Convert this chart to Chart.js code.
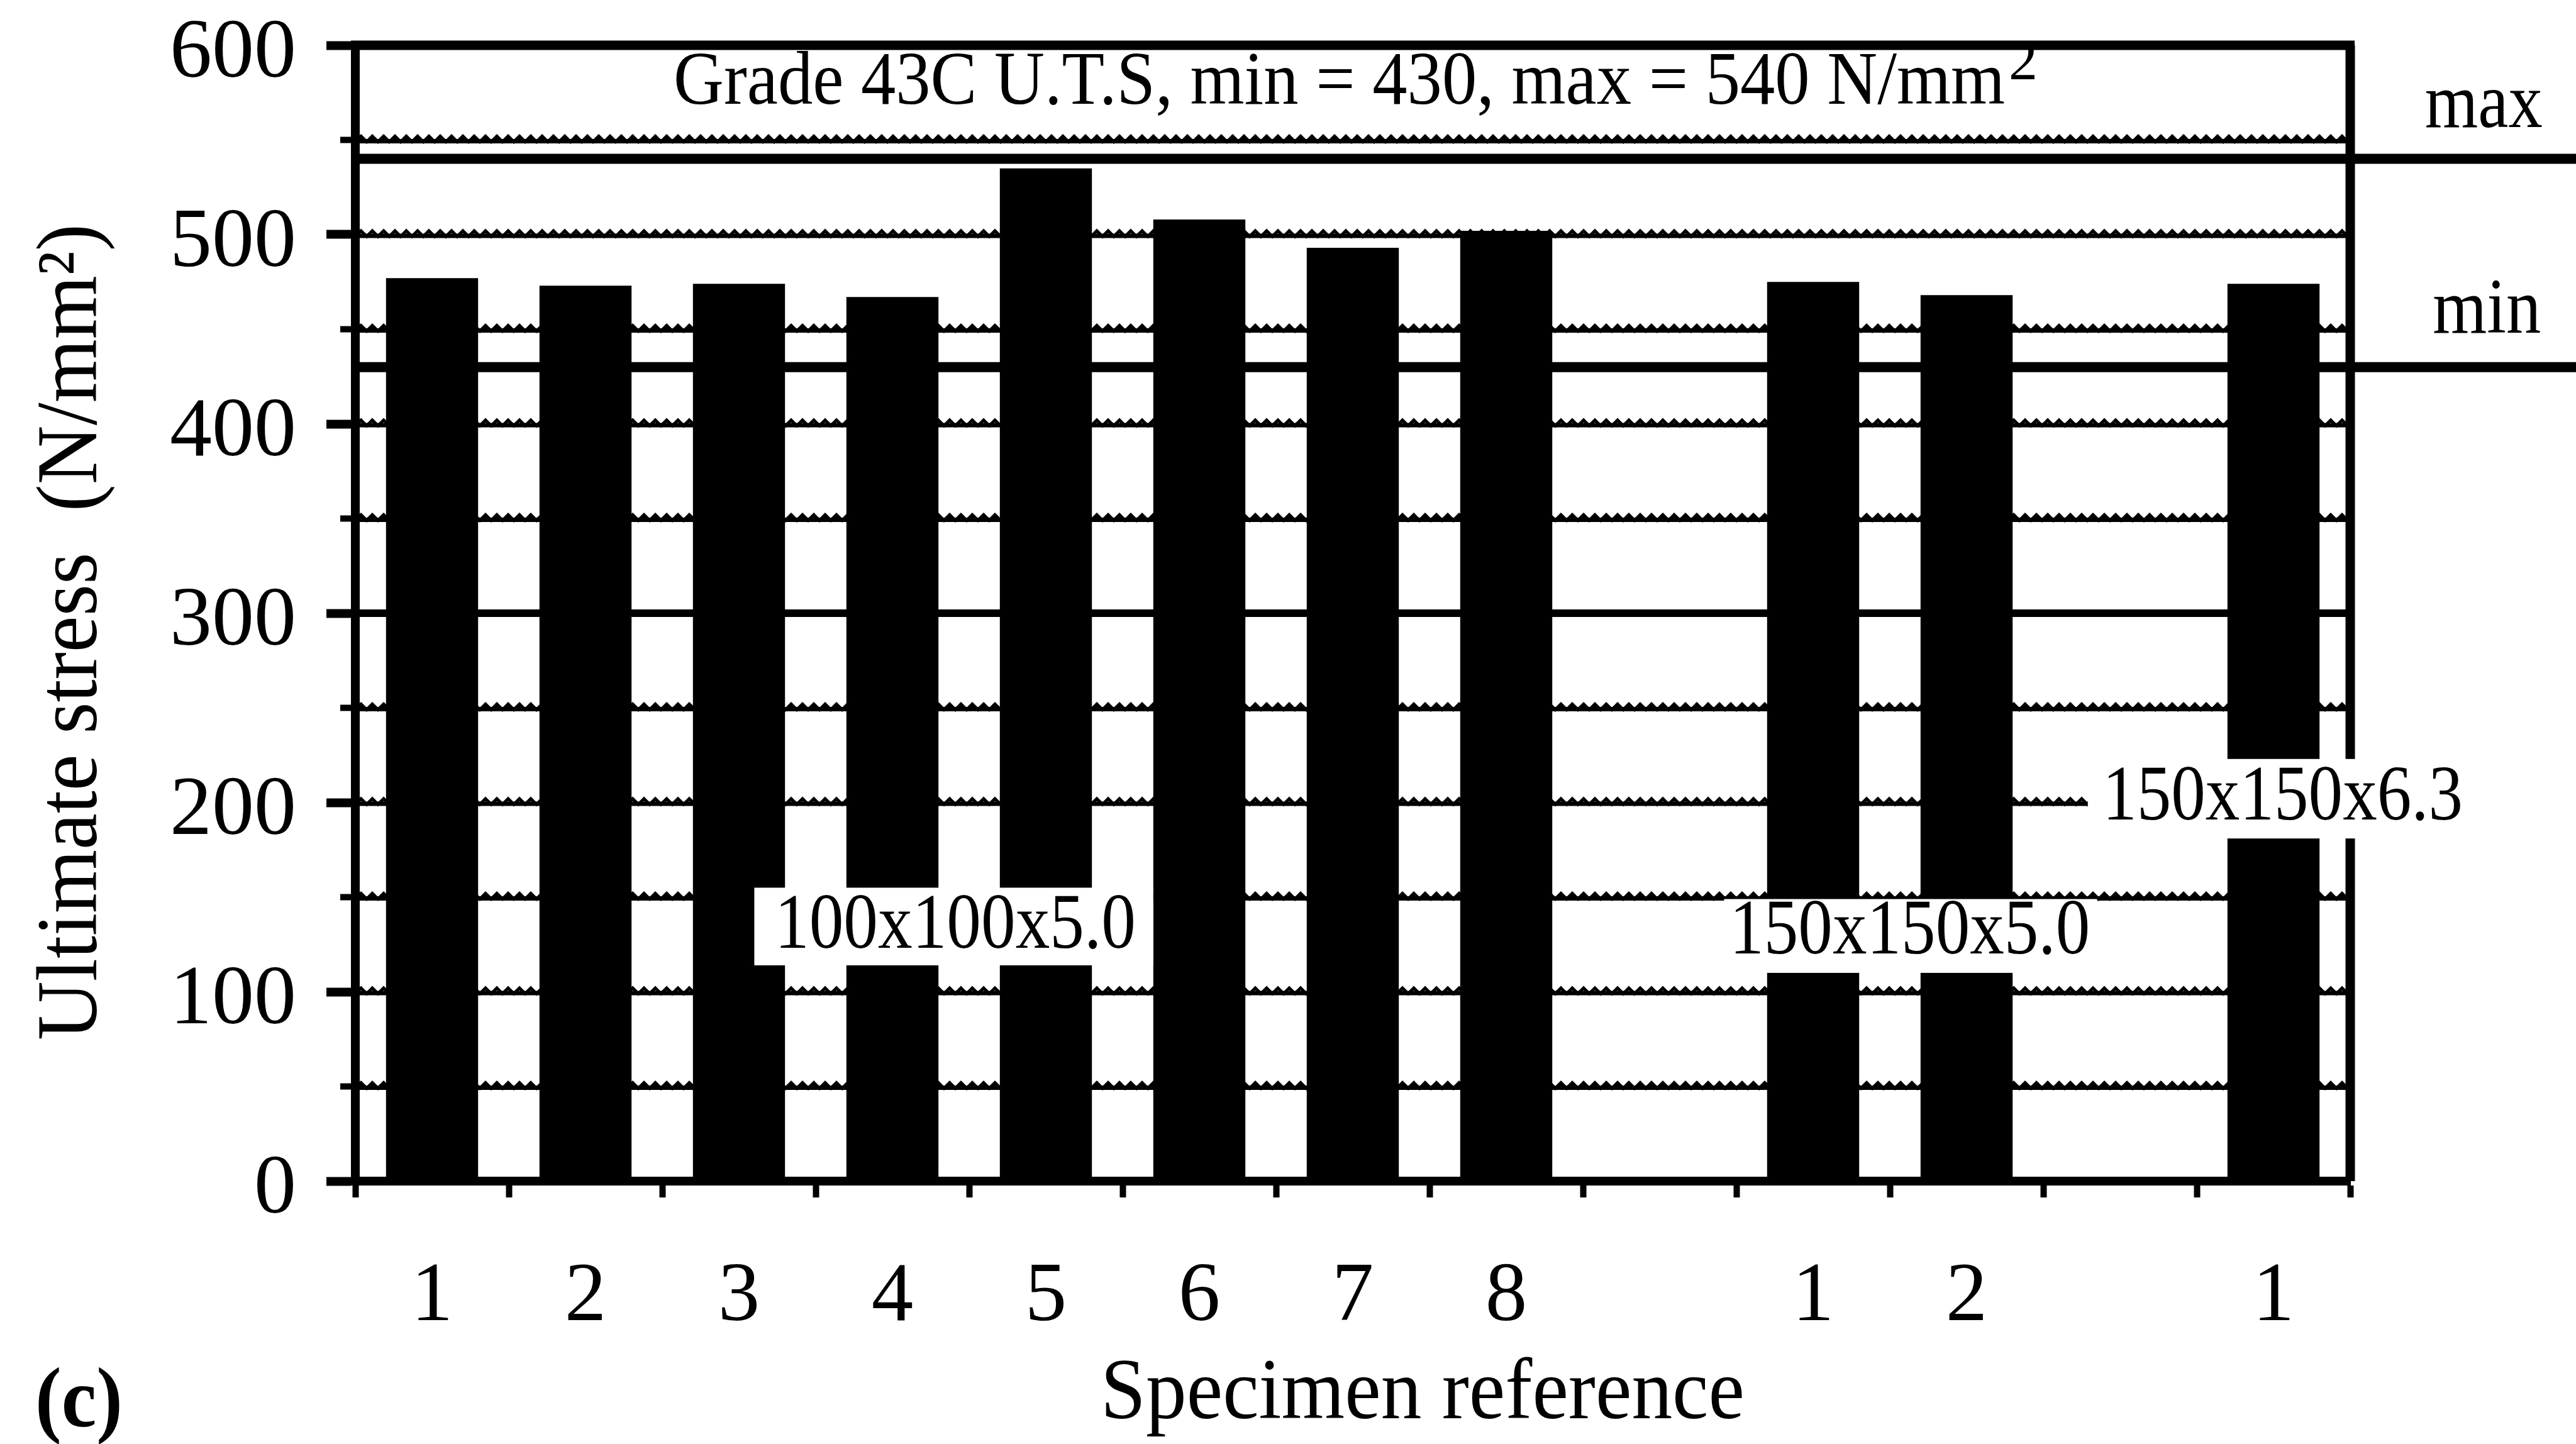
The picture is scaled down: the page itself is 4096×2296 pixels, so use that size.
<!DOCTYPE html>
<html>
<head>
<meta charset="utf-8">
<title>Ultimate stress by specimen</title>
<script src="https://cdn.jsdelivr.net/npm/chart.js@4.4.1/dist/chart.umd.min.js"></script>
<style>
  html, body { margin: 0; padding: 0; background: #fff; }
  #wrap { width: 4096px; height: 2296px; position: relative; }
</style>
</head>
<body>
<div id="wrap"><canvas id="stressChart"></canvas></div>
<script>
// specimen references on the x axis (blank slots split the section sizes)
const specimenLabels = ['1', '2', '3', '4', '5', '6', '7', '8', '', '1', '2', '', '1'];
// ultimate stress per specimen, N/mm2
const ultimateStress = [477, 473, 474, 467, 535, 508, 493, 502, null, 475, 468, null, 474];
// Grade 43C U.T.S limits
const limitNames = ['min', 'max'];
const limitValues = [430, 540];
// y axis
const yTickLabels = [0, 100, 200, 300, 400, 500, 600];
const yMin = 0;
const yMax = 600;
const yStep = 50;
// section size labels
const sectionNames = ['100x100x5.0', '150x150x5.0', '150x150x6.3'];

const SERIF = "'Liberation Serif', 'Times New Roman', Times, serif";
const INK = '#000';

// where the section labels sit, in scale units (category index / stress)
const sectionLayout = [
    { x: 3.41, y: 134, width: 574, box: [2.10, 4.70, 114, 155] },
    { x: 9.63, y: 131, width: 573, box: [8.42, 10.85, 110, 149] },
    { x: 12.06, y: 202, width: 573, box: [10.79, 13.29, 181, 223] }
];

// draw text squeezed to a given width (the scan's type is narrow)
function fitText(ctx, text, x, y, size, width, opts = {}) {
    ctx.save();
    ctx.font = `${opts.weight || 'normal'} ${size}px ${SERIF}`;
    const natural = ctx.measureText(text).width;
    const sx = width ? width / natural : 1;
    ctx.translate(x, y);
    if (opts.rotate) ctx.rotate(opts.rotate);
    ctx.scale(sx, 1);
    ctx.fillStyle = INK;
    ctx.textAlign = opts.align || 'center';
    ctx.textBaseline = opts.baseline || 'alphabetic';
    ctx.fillText(text, 0, 0);
    ctx.restore();
    return natural * sx;
}

// the photocopied grid lines look like a little saw-tooth
function drawWavy(ctx, x1, x2, py) {
    ctx.lineWidth = 7;
    ctx.beginPath();
    ctx.moveTo(x1, py + 2);
    ctx.lineTo(x2, py + 2);
    ctx.stroke();
    ctx.lineWidth = 5;
    ctx.beginPath();
    let up = false;
    for (let x = x1; x <= x2; x += 9) {
        ctx.lineTo(x, up ? py - 6 : py + 3);
        up = !up;
    }
    ctx.stroke();
}

const overlay = {
    id: 'overlay',
    beforeDatasetsDraw(chart) {
        const { ctx, chartArea: area, scales: { y } } = chart;
        ctx.save();
        ctx.strokeStyle = INK;
        y.ticks.forEach(t => {
            if (t.value <= yMin || t.value >= yMax) return;
            const py = y.getPixelForValue(t.value);
            if (t.value === 300) {
                ctx.lineWidth = 12;
                ctx.beginPath();
                ctx.moveTo(area.left, py);
                ctx.lineTo(area.right, py);
                ctx.stroke();
            } else {
                drawWavy(ctx, area.left, area.right, py);
            }
            // short minor ticks at the 50s
            if (!yTickLabels.includes(t.value)) {
                ctx.lineWidth = 10;
                ctx.beginPath();
                ctx.moveTo(area.left - 24, py);
                ctx.lineTo(area.left, py);
                ctx.stroke();
            }
        });
        ctx.restore();
    },
    afterDatasetsDraw(chart) {
        const { ctx, chartArea: area, scales: { x, y } } = chart;
        ctx.save();
        ctx.strokeStyle = INK;
        ctx.lineCap = 'butt';

        // min / max limit lines run out past the frame
        ctx.lineWidth = 16;
        limitValues.forEach(v => {
            const py = y.getPixelForValue(v);
            ctx.beginPath();
            ctx.moveTo(area.left, py);
            ctx.lineTo(chart.width, py);
            ctx.stroke();
        });

        // top and right edges of the frame
        ctx.lineWidth = 15;
        const top = y.getPixelForValue(yMax);
        ctx.beginPath();
        ctx.moveTo(area.left - 7, top);
        ctx.lineTo(area.right + 7, top);
        ctx.moveTo(area.right, top);
        ctx.lineTo(area.right, y.getPixelForValue(yMin));
        ctx.stroke();

        // white boxes behind the section labels
        ctx.fillStyle = '#fff';
        sectionLayout.forEach(s => {
            const x1 = x.getPixelForValue(s.box[0]);
            const x2 = x.getPixelForValue(s.box[1]);
            const y1 = y.getPixelForValue(s.box[3]);
            const y2 = y.getPixelForValue(s.box[2]);
            ctx.fillRect(x1, y1, x2 - x1, y2 - y1);
        });
        sectionNames.forEach((name, i) => {
            const s = sectionLayout[i];
            fitText(ctx, name, x.getPixelForValue(s.x), y.getPixelForValue(s.y), 124, s.width,
                { baseline: 'middle' });
        });

        // header inside the frame
        const hx = x.getPixelForValue(1.574);
        const hw = fitText(ctx, 'Grade 43C U.T.S, min = 430, max = 540 N/mm', hx,
            y.getPixelForValue(569), 121, 2117, { align: 'left' });
        fitText(ctx, '2', hx + hw + 6, y.getPixelForValue(582), 92, 0, { align: 'left' });

        // limit names at the right
        fitText(ctx, limitNames[1], x.getPixelForValue(13.37), y.getPixelForValue(556.8), 124, 187);
        fitText(ctx, limitNames[0], x.getPixelForValue(13.39), y.getPixelForValue(448.2), 124, 172);

        // axis titles and panel letter
        fitText(ctx, 'Ultimate stress  (N/mm\u00B2)', 117, 1005, 138, 1298,
            { rotate: -Math.PI / 2, baseline: 'middle' });
        fitText(ctx, 'Specimen reference', 2262, 2255, 137, 1024);
        fitText(ctx, '(c)', 56, 2268, 135, 139, { align: 'left', weight: 'bold' });
        ctx.restore();
    }
};

const config = {
    type: 'bar',
    data: {
        labels: specimenLabels,
        datasets: [{
            label: 'Ultimate stress',
            data: ultimateStress,
            backgroundColor: INK,
            borderWidth: 0,
            barPercentage: 0.6,
            categoryPercentage: 1
        }]
    },
    options: {
        responsive: true,
        maintainAspectRatio: false,
        animation: false,
        devicePixelRatio: 1,
        layout: {
            autoPadding: false,
            padding: { top: 72, right: 359, bottom: 0, left: 0 }
        },
        plugins: {
            legend: { display: false },
            tooltip: { enabled: false },
            title: { display: false }
        },
        scales: {
            x: {
                type: 'category',
                afterFit: (scale) => {
                    scale.height = 418;
                    scale.paddingLeft = 0;
                    scale.paddingRight = 0;
                },
                grid: {
                    offset: true,
                    drawOnChartArea: false,
                    tickLength: 26,
                    tickWidth: 10,
                    tickColor: INK,
                    color: INK
                },
                border: { display: true, color: INK, width: 14 },
                ticks: {
                    autoSkip: false,
                    maxRotation: 0,
                    padding: 94,
                    color: INK,
                    font: { family: SERIF, size: 133, lineHeight: 1 }
                }
            },
            y: {
                min: yMin,
                max: yMax,
                afterFit: (scale) => {
                    scale.width = 565;
                    scale.paddingTop = 0;
                    scale.paddingBottom = 0;
                },
                grid: {
                    drawOnChartArea: false,
                    tickLength: 46,
                    tickWidth: 14,
                    tickColor: (c) => (c.tick && yTickLabels.includes(c.tick.value)) ? INK : 'rgba(0,0,0,0)'
                },
                border: { display: true, color: INK, width: 14 },
                ticks: {
                    stepSize: yStep,
                    maxTicksLimit: 20,
                    autoSkip: false,
                    padding: 48,
                    labelOffset: 15,
                    color: INK,
                    font: { family: SERIF, size: 134 },
                    callback: (v) => yTickLabels.includes(v) ? String(v) : ''
                }
            }
        }
    },
    plugins: [overlay]
};

new Chart(document.getElementById('stressChart'), config);
</script>
</body>
</html>
